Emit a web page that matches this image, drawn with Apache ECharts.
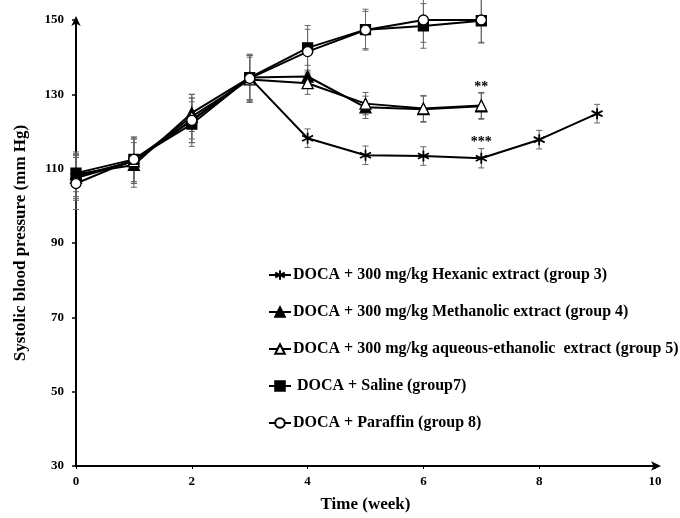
<!DOCTYPE html>
<html>
<head>
<meta charset="utf-8">
<script src="https://cdn.jsdelivr.net/npm/echarts@6/dist/echarts.min.js"></script>
<style>html,body{margin:0;padding:0;background:#fff;}#c{width:680px;height:518px;}</style>
</head>
<body>
<div id="c"></div>
<script>
// ---- data ----
const seriesNames = [
  'DOCA + 300 mg/kg Hexanic extract (group 3)',
  'DOCA + 300 mg/kg Methanolic extract (group 4)',
  'DOCA + 300 mg/kg aqueous-ethanolic  extract (group 5)',
  ' DOCA + Saline (group7)',
  'DOCA + Paraffin (group 8)'
];
const weeksHex = [0, 1, 2, 3, 4, 5, 6, 7, 8, 9];
const weeksOther = [0, 1, 2, 3, 4, 5, 6, 7];
const hexanic = [108, 112, 123, 134.5, 118.2, 113.6, 113.4, 112.8, 117.8, 124.8];
const hexanicErr = [6, 6, 6, 6, 2.5, 2.5, 2.5, 2.6, 2.5, 2.5];
const methanolic = [108.5, 111, 125, 134.5, 134.8, 126.5, 126, 126.8];
const methanolicErr = [6, 6, 5, 6, 3, 3, 3.5, 3.5];
const aqEthanolic = [107.5, 112, 124, 134, 133, 127.5, 126.2, 127];
const aqEthanolicErr = [6, 6, 6, 6, 3, 3, 3.5, 3.5];
const saline = [108.8, 112.5, 122, 134.5, 142.5, 147.4, 148.4, 149.8];
const salineErr = [5, 6, 6, 6, 6, 5.5, 6, 6];
const paraffin = [106, 112.5, 123, 134.3, 141.5, 147.3, 150, 150];
const paraffinErr = [7, 6, 6, 6.5, 6, 5, 6, 6];
const annotationX = [7, 7];
const annotationY = [132.0, 117.0];
const annotationText = ['**', '***'];
const xTicks = {min: 0, max: 10, interval: 2};
const yTicks = {min: 30, max: 150, interval: 20};

// ---- styling ----
const FONT = '"Liberation Serif", "Times New Roman", serif';
const asterisk = 'path://M0,-6L0,6M-5.2,-3L5.2,3M-5.2,3L5.2,-3';

function pairs(xs, ys) { return xs.map((x, i) => [x, ys[i]]); }

function lineSeries(name, xs, ys, symbol, size, fill, z) {
  return {
    type: 'line', name: name, data: pairs(xs, ys),
    symbol: symbol, symbolSize: size,
    lineStyle: {color: '#000', width: 2},
    itemStyle: {color: fill, borderColor: '#000', borderWidth: symbol === asterisk ? 1.8 : 1.3},
    z: z, showAllSymbol: true, animation: false
  };
}

function errSeries(xs, ys, errs, z) {
  return {
    type: 'custom', silent: true, z: z, animation: false,
    data: xs.map((x, i) => [x, ys[i], errs[i]]),
    renderItem: function (params, api) {
      const x = api.value(0), y = api.value(1), e = api.value(2);
      const hi = api.coord([x, y + e]), lo = api.coord([x, y - e]);
      const w = 3, st = {stroke: '#666', lineWidth: 1};
      return {type: 'group', children: [
        {type: 'line', shape: {x1: hi[0], y1: hi[1], x2: lo[0], y2: lo[1]}, style: st},
        {type: 'line', shape: {x1: hi[0] - w, y1: hi[1], x2: hi[0] + w, y2: hi[1]}, style: st},
        {type: 'line', shape: {x1: lo[0] - w, y1: lo[1], x2: lo[0] + w, y2: lo[1]}, style: st}
      ]};
    }
  };
}

const hexSeries = lineSeries(seriesNames[0], weeksHex, hexanic, asterisk, 11, 'none', 3);
hexSeries.markPoint = {
  symbol: 'circle', symbolSize: 1, silent: true, animation: false,
  itemStyle: {color: 'rgba(0,0,0,0)', borderWidth: 0},
  label: {show: true, color: '#000', fontFamily: FONT, fontWeight: 'bold', fontSize: 14, position: 'inside'},
  data: annotationX.map((x, i) => ({coord: [x, annotationY[i]], label: {formatter: annotationText[i]}}))
};

const series = [
  errSeries(weeksHex, hexanic, hexanicErr, 1),
  errSeries(weeksOther, methanolic, methanolicErr, 1),
  errSeries(weeksOther, aqEthanolic, aqEthanolicErr, 1),
  errSeries(weeksOther, saline, salineErr, 1),
  errSeries(weeksOther, paraffin, paraffinErr, 1),
  hexSeries,
  lineSeries(seriesNames[1], weeksOther, methanolic, 'triangle', 11, '#000', 3),
  lineSeries(seriesNames[2], weeksOther, aqEthanolic, 'triangle', 11, '#fff', 3),
  lineSeries(seriesNames[3], weeksOther, saline, 'rect', 10, '#000', 3),
  lineSeries(seriesNames[4], weeksOther, paraffin, 'circle', 10, '#fff', 4)
];

const chart = echarts.init(document.getElementById('c'), null, {renderer: 'canvas'});
chart.setOption({
  backgroundColor: '#fff',
  animation: false,
  textStyle: {fontFamily: FONT},
  grid: {left: 76, right: 25, top: 20, bottom: 46, containLabel: false},
  legend: {
    data: seriesNames,
    orient: 'vertical', left: 263, top: 262,
    itemWidth: 22, itemHeight: 12, itemGap: 21,
    textStyle: {fontFamily: FONT, fontWeight: 'bold', fontSize: 16, color: '#000', padding: [0, 0, 0, -3]},
    selectedMode: false
  },
  xAxis: {
    type: 'value', min: xTicks.min, max: xTicks.max, interval: xTicks.interval,
    name: 'Time (week)', nameLocation: 'middle', nameGap: 30,
    nameTextStyle: {fontFamily: FONT, fontWeight: 'bold', fontSize: 17, color: '#000'},
    axisLine: {lineStyle: {color: '#000', width: 2}, symbol: ['none', 'arrow'], symbolSize: [7, 10], symbolOffset: [0, 6]},
    axisTick: {show: true, length: 3, lineStyle: {color: '#000', width: 1}},
    axisLabel: {fontFamily: FONT, fontWeight: 'bold', fontSize: 13, color: '#000', margin: 9},
    splitLine: {show: false}
  },
  yAxis: {
    type: 'value', min: yTicks.min, max: yTicks.max, interval: yTicks.interval,
    name: 'Systolic blood pressure (mm Hg)', nameLocation: 'middle', nameGap: 47,
    nameTextStyle: {fontFamily: FONT, fontWeight: 'bold', fontSize: 17, color: '#000'},
    axisLine: {show: true, lineStyle: {color: '#000', width: 2}, symbol: ['none', 'arrow'], symbolSize: [7, 10], symbolOffset: [0, 4]},
    axisTick: {show: true, length: 4, lineStyle: {color: '#000', width: 1.5}},
    axisLabel: {fontFamily: FONT, fontWeight: 'bold', fontSize: 13, color: '#000', margin: 12},
    splitLine: {show: false}
  },
  series: series
});
</script>
</body>
</html>
